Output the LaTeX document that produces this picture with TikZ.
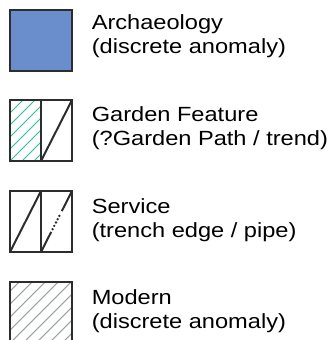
\documentclass[tikz,border=0pt]{standalone}
\usepackage{fontspec}
\setmainfont{Liberation Sans}[FakeStretch=1.15]
\usepackage{tikz}
\definecolor{archblue}{RGB}{106,141,204}
\definecolor{gardengreen}{RGB}{45,192,145}
\definecolor{moderngrey}{RGB}{154,163,163}
\definecolor{boxline}{RGB}{45,45,45}

\begin{document}
\begin{tikzpicture}[x=0.75pt,y=-0.75pt,
        keybox/.style={draw=boxline,line width=1.1pt},
        keydiag/.style={draw=boxline,line width=1.5pt},
        keytext/.style={anchor=base west,inner sep=0pt,font=\fontsize{15.4}{18}\selectfont}]
        \useasboundingbox (0,0) rectangle (331,340);
        \clip (0,0) rectangle (331,340);
        % archaeology
        \draw[keybox,fill=archblue] (10,10) rectangle (72,71);
        \node[keytext] (archA) at (91.5,29.8) {Archaeology};
        \node[keytext] (archB) at (91.5,53.8) {(discrete anomaly)};
        % garden feature
        \begin{scope}
            \clip (10,100) rectangle (41,161);
            \foreach \k in {-5,...,3}
                \draw[gardengreen,line width=0.7pt] (10+\k*12,161) -- ++(61,-61);
        \end{scope}
        \draw[keybox] (41,100) rectangle (72,161);
        \draw[keydiag] (41,161) -- (72,100);
        \draw[keybox,line width=1.6pt] (10,100) rectangle (41,161);
        \node[keytext] (gardA) at (91.5,121.2) {Garden Feature};
        \node[keytext] (gardB) at (91.5,145.2) {(?Garden Path / trend)};
        % service
        \draw[keybox,line width=0.9pt] (10,191) rectangle (72,252);
        \draw[keybox,line width=0.9pt] (41,191) -- (41,252);
        \draw[keydiag] (10,252) -- (41,191);
        \draw[keydiag] (41,252) -- (51.2,231.9);
        \draw[keydiag,line width=2pt,line cap=round,dash pattern=on 0pt off 2.8pt] (52.6,229.2) -- (60.4,213.8);
        \draw[keydiag] (61.8,211.1) -- (72,191);
        \node[keytext] (servA) at (91.5,213.2) {Service};
        \node[keytext] (servB) at (91.5,237.2) {(trench edge / pipe)};
        % modern
        \begin{scope}
            \clip (10,282) rectangle (72,343);
            \foreach \k in {-5,...,5}
                \draw[moderngrey,line width=0.8pt] (10+\k*13,343) -- ++(61,-61);
        \end{scope}
        \draw[keybox] (10,282) rectangle (72,343);
        \node[keytext] (modA) at (91.5,304.8) {Modern};
        \node[keytext] (modB) at (91.5,328.8) {(discrete anomaly)};
\end{tikzpicture}
\end{document}
